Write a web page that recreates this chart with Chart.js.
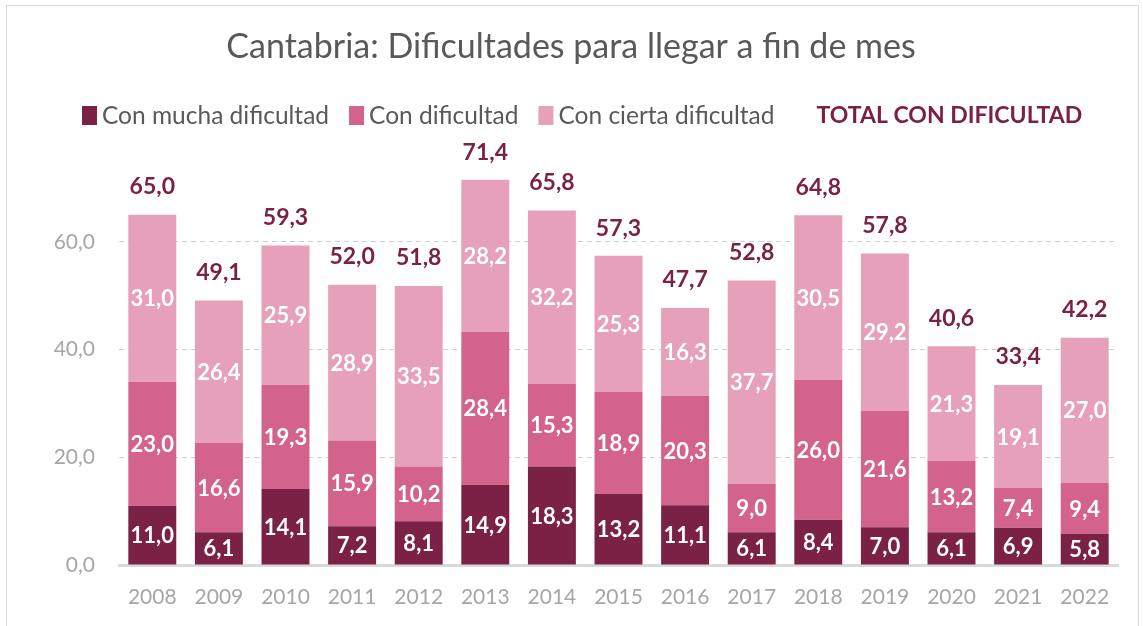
<!DOCTYPE html>
<html>
<head>
<meta charset="utf-8">
<script src="https://cdn.jsdelivr.net/npm/chart.js@4"></script>
<style>
  html, body { margin: 0; padding: 0; background: #fff; }
  #wrap { position: relative; width: 1143px; height: 626px; }
  #frame { position: absolute; left: 6px; top: 5px; width: 1133px; height: 630px; border: 1px solid #d9d9d9; box-sizing: border-box; pointer-events: none; }
</style>
</head>
<body>
<div id="wrap">
  <canvas id="chart" width="1143" height="626"></canvas>
  <div id="frame"></div>
</div>
<script>
const years = ['2008', '2009', '2010', '2011', '2012', '2013', '2014', '2015', '2016', '2017', '2018', '2019', '2020', '2021', '2022'];
const muchaDificultad = [11.0, 6.1, 14.1, 7.2, 8.1, 14.9, 18.3, 13.2, 11.1, 6.1, 8.4, 7.0, 6.1, 6.9, 5.8];
const conDificultad = [23.0, 16.6, 19.3, 15.9, 10.2, 28.4, 15.3, 18.9, 20.3, 9.0, 26.0, 21.6, 13.2, 7.4, 9.4];
const ciertaDificultad = [31.0, 26.4, 25.9, 28.9, 33.5, 28.2, 32.2, 25.3, 16.3, 37.7, 30.5, 29.2, 21.3, 19.1, 27.0];
const totalDificultad = [65.0, 49.1, 59.3, 52.0, 51.8, 71.4, 65.8, 57.3, 47.7, 52.8, 64.8, 57.8, 40.6, 33.4, 42.2];

const DARK = '#7b2146';
const MID = '#d4638c';
const LIGHT = '#e6a0ba';
const FONT = 'Lato, "Open Sans", sans-serif';

function fmt(v) {
    return v.toFixed(1).replace('.', ',');
}

// title, legend and value labels
const decorations = {
    id: 'decorations',
    afterDatasetsDraw(chart) {
        const ctx = chart.ctx;
        const yScale = chart.scales.y;
        ctx.save();

        // title
        ctx.fillStyle = '#595959';
        ctx.font = '34px ' + FONT;
        ctx.textAlign = 'center';
        ctx.textBaseline = 'middle';
        ctx.fillText('Cantabria: Dificultades para llegar a fin de mes', 571, 47);

        // legend
        let x = 82;
        ctx.textAlign = 'left';
        ctx.font = '24.5px ' + FONT;
        chart.data.datasets.forEach(ds => {
            ctx.fillStyle = ds.backgroundColor;
            ctx.fillRect(x, 106, 15, 19);
            x += 20;
            ctx.fillStyle = '#595959';
            ctx.fillText(ds.label, x, 116);
            x += ctx.measureText(ds.label).width + 20;
        });
        x += 22;
        ctx.font = 'bold 23px ' + FONT;
        ctx.fillStyle = DARK;
        ctx.fillText('TOTAL CON DIFICULTAD', x, 116);

        // segment labels
        ctx.textAlign = 'center';
        ctx.font = 'bold 22px ' + FONT;
        ctx.fillStyle = '#ffffff';
        chart.data.datasets.forEach((ds, i) => {
            chart.getDatasetMeta(i).data.forEach((bar, j) => {
                const mid = (bar.y + bar.base) / 2;
                ctx.fillText(fmt(ds.data[j]), bar.x, mid + 1);
            });
        });

        // totals
        ctx.fillStyle = DARK;
        ctx.font = 'bold 23px ' + FONT;
        chart.getDatasetMeta(0).data.forEach((bar, j) => {
            const top = yScale.getPixelForValue(totalDificultad[j]);
            ctx.fillText(fmt(totalDificultad[j]), bar.x, top - 28);
        });
        ctx.restore();
    }
};

new Chart(document.getElementById('chart'), {
    type: 'bar',
    data: {
        labels: years,
        datasets: [
            { label: 'Con mucha dificultad', data: muchaDificultad, backgroundColor: DARK },
            { label: 'Con dificultad', data: conDificultad, backgroundColor: MID },
            { label: 'Con cierta dificultad', data: ciertaDificultad, backgroundColor: LIGHT }
        ]
    },
    options: {
        responsive: false,
        animation: false,
        layout: { padding: { top: 134, right: 25, left: 0, bottom: 0 } },
        datasets: {
            bar: { categoryPercentage: 0.72, barPercentage: 1.0 }
        },
        plugins: {
            legend: { display: false },
            title: { display: false },
            tooltip: { enabled: false }
        },
        scales: {
            x: {
                stacked: true,
                grid: { display: false, drawTicks: false },
                border: { display: true, color: '#d9d9d9', width: 3 },
                ticks: { color: '#a6a6a6', font: { family: FONT, size: 21 }, padding: 20 },
                afterFit(scale) { scale.height = 61; }
            },
            y: {
                stacked: true,
                min: 0,
                max: 80,
                grid: {
                    drawTicks: false,
                    color: c => (c.tick.value === 0 || c.tick.value === 80) ? 'rgba(0,0,0,0)' : '#d0d0d0',
                    lineWidth: 1
                },
                border: { display: false, dash: [5, 4] },
                ticks: {
                    stepSize: 20,
                    color: '#a6a6a6',
                    font: { family: FONT, size: 21 },
                    padding: 24,
                    callback: v => v === 80 ? '' : fmt(v)
                },
                afterFit(scale) { scale.width = 119; }
            }
        }
    },
    plugins: [decorations]
});
</script>
</body>
</html>
